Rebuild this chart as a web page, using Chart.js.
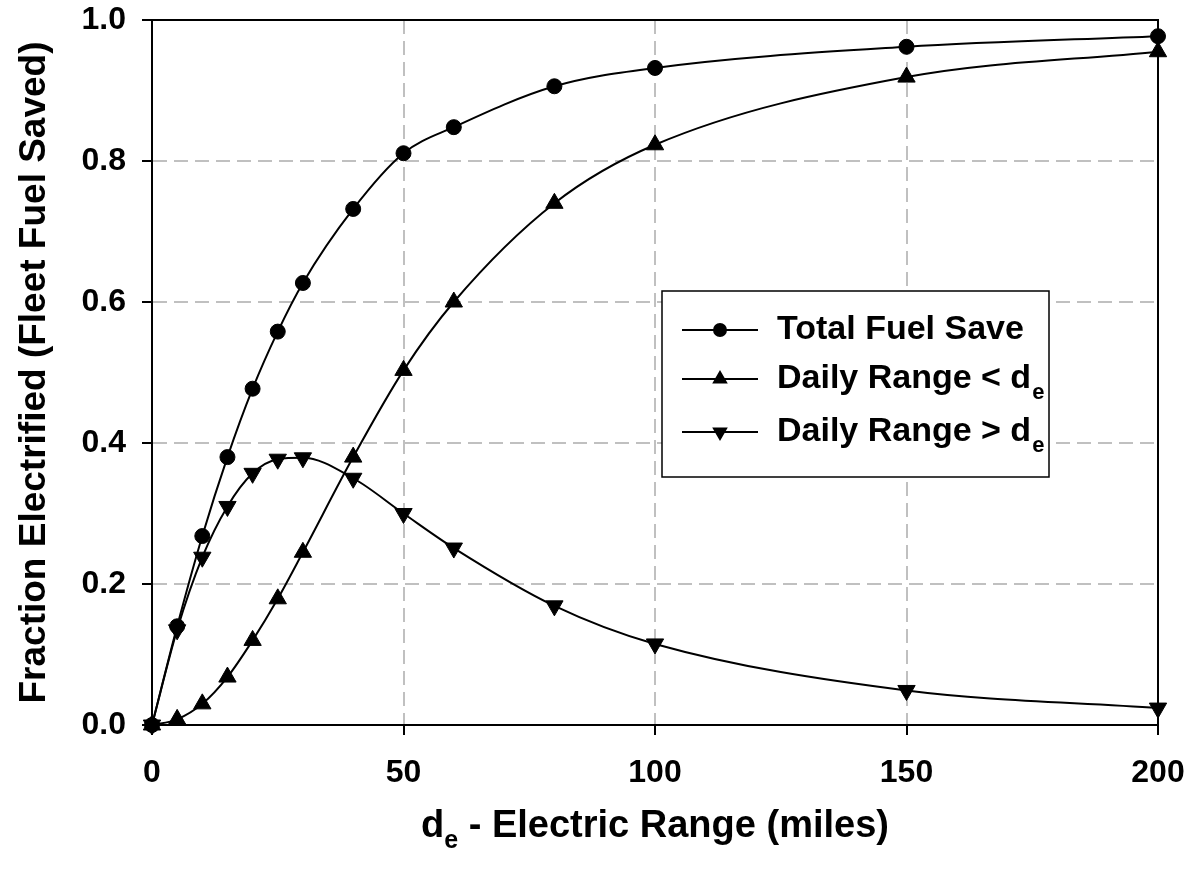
<!DOCTYPE html>
<html>
<head>
<meta charset="utf-8">
<script src="https://cdn.jsdelivr.net/npm/chart.js@4/dist/chart.umd.min.js"></script>
<style>
  html, body { margin: 0; padding: 0; background: #fff; }
  #wrap { width: 1192px; height: 871px; }
</style>
</head>
<body>
<div id="wrap"><canvas id="chart" width="1192" height="871"></canvas></div>
<script>
'use strict';

// ── Data ─────────────────────────────────────────────────────────────────────
const rangeMiles   = [0, 5, 10, 15, 20, 25, 30, 40, 50, 60, 80, 100, 150, 200];
const totalSave    = [0, 0.140, 0.268, 0.380, 0.477, 0.558, 0.627, 0.732, 0.811, 0.848, 0.906, 0.932, 0.962, 0.977];
const dailyBelow   = [0, 0.008, 0.030, 0.068, 0.120, 0.179, 0.245, 0.380, 0.503, 0.600, 0.740, 0.823, 0.919, 0.955];
const dailyAbove   = [0, 0.135, 0.238, 0.310, 0.357, 0.377, 0.379, 0.350, 0.300, 0.251, 0.169, 0.115, 0.049, 0.024];
const xTicks       = [0, 50, 100, 150, 200];
const yTicks       = [0, 0.2, 0.4, 0.6, 0.8, 1.0];

const FONT = '"Liberation Sans", Arial, Helvetica, sans-serif';
const GRID = '#c0c0c0';

const toPoints = ys => rangeMiles.map((x, i) => ({ x, y: ys[i] }));

const seriesDefs = [
  { label: 'Total Fuel Save', data: totalSave,  style: 'circle',   rot: 0,   r: 7.5, lr: 6 },
  { label: 'Daily Range < ',  data: dailyBelow, style: 'triangle', rot: 0,   r: 10,  lr: 7 },
  { label: 'Daily Range > ',  data: dailyAbove, style: 'triangle', rot: 180, r: 10,  lr: 7 },
];

// ── Frame, legend and x title with subscripts ────────────────────────────────
const decorPlugin = {
  id: 'decor',
  beforeDatasetsDraw(chart) {
    const { ctx, chartArea: a } = chart;
    ctx.save();
    ctx.strokeStyle = '#000';
    ctx.lineWidth = 2;
    ctx.beginPath();
    ctx.moveTo(a.left, a.top);
    ctx.lineTo(a.right, a.top);
    ctx.lineTo(a.right, a.bottom);
    ctx.stroke();
    ctx.restore();
  },
  afterDraw(chart) {
    const { ctx, chartArea: a } = chart;
    ctx.save();

    // legend box
    const bx = 662, by = 291, bw = 387, bh = 186;
    ctx.fillStyle = '#fff';
    ctx.fillRect(bx, by, bw, bh);
    ctx.strokeStyle = '#000';
    ctx.lineWidth = 1.5;
    ctx.strokeRect(bx, by, bw, bh);

    const rows = [330, 379, 432];
    seriesDefs.forEach((s, i) => {
      const y = rows[i];
      ctx.strokeStyle = '#000';
      ctx.lineWidth = 2;
      ctx.beginPath();
      ctx.moveTo(682, y);
      ctx.lineTo(758, y);
      ctx.stroke();
      ctx.fillStyle = '#000';
      Chart.helpers.drawPoint(ctx, { pointStyle: s.style, rotation: s.rot, radius: s.lr, borderWidth: 1 }, 720, y);

      ctx.font = 'bold 34px ' + FONT;
      ctx.textBaseline = 'middle';
      ctx.textAlign = 'left';
      ctx.fillText(s.label, 777, y);
      if (i > 0) {
        const w = ctx.measureText(s.label).width;
        ctx.fillText('d', 777 + w, y);
        const wd = ctx.measureText('d').width;
        ctx.font = 'bold 22px ' + FONT;
        ctx.fillText('e', 777 + w + wd + 1, y + 14);
      }
    });

    // x axis title: d_e - Electric Range (miles)
    const parts = [
      { t: 'd', f: 'bold 38px ', dy: 0 },
      { t: 'e', f: 'bold 25px ', dy: 11 },
      { t: ' - Electric Range (miles)', f: 'bold 38px ', dy: 0 },
    ];
    let total = 0;
    parts.forEach(p => { ctx.font = p.f + FONT; p.w = ctx.measureText(p.t).width; total += p.w; });
    let x = (a.left + a.right) / 2 - total / 2;
    ctx.textBaseline = 'alphabetic';
    ctx.textAlign = 'left';
    ctx.fillStyle = '#000';
    parts.forEach(p => { ctx.font = p.f + FONT; ctx.fillText(p.t, x, 837 + p.dy); x += p.w; });

    ctx.restore();
  },
};

const edgeTransparent = (min, max) => c =>
  (c.tick && (c.tick.value === min || c.tick.value === max)) ? 'rgba(0,0,0,0)' : GRID;

new Chart(document.getElementById('chart').getContext('2d'), {
  type: 'line',
  data: {
    datasets: seriesDefs.map(s => ({
      label: s.label,
      data: toPoints(s.data),
      borderColor: '#000',
      backgroundColor: '#000',
      borderWidth: 2,
      pointStyle: s.style,
      pointRotation: s.rot,
      pointRadius: s.r,
      pointBackgroundColor: '#000',
      pointBorderColor: '#000',
      pointBorderWidth: 1,
      cubicInterpolationMode: 'monotone',
      fill: false,
      clip: false,
    })),
  },
  options: {
    responsive: false,
    animation: false,
    layout: { padding: { top: 20, right: 34, left: 0, bottom: 0 } },
    plugins: { legend: { display: false }, tooltip: { enabled: false } },
    scales: {
      x: {
        type: 'linear',
        min: 0, max: 200,
        afterFit(scale) { scale.height = 146; scale.paddingLeft = 0; scale.paddingRight = 0; },
        afterBuildTicks(scale) { scale.ticks = xTicks.map(v => ({ value: v })); },
        ticks: { color: '#000', font: { family: FONT, size: 32, weight: 'bold' }, padding: 19, maxRotation: 0 },
        grid: { color: edgeTransparent(0, 200), lineWidth: 2, tickLength: 10, tickColor: '#000', tickWidth: 2 },
        border: { display: true, color: '#000', width: 2, dash: [14, 7] },
      },
      y: {
        min: 0, max: 1,
        afterFit(scale) { scale.width = 152; scale.paddingTop = 0; scale.paddingBottom = 0; },
        afterBuildTicks(scale) { scale.ticks = yTicks.map(v => ({ value: v })); },
        ticks: {
          color: '#000', font: { family: FONT, size: 32, weight: 'bold' }, padding: 16,
          callback: v => Number(v).toFixed(1),
        },
        grid: { color: edgeTransparent(0, 1), lineWidth: 2, tickLength: 10, tickColor: '#000', tickWidth: 2 },
        border: { display: true, color: '#000', width: 2, dash: [14, 7] },
        title: {
          display: true,
          text: 'Fraction Electrified (Fleet Fuel Saved)',
          color: '#000',
          font: { family: FONT, size: 37, weight: 'bold' },
          padding: { top: 13, bottom: 0 },
        },
      },
    },
  },
  plugins: [decorPlugin],
});
</script>
</body>
</html>
